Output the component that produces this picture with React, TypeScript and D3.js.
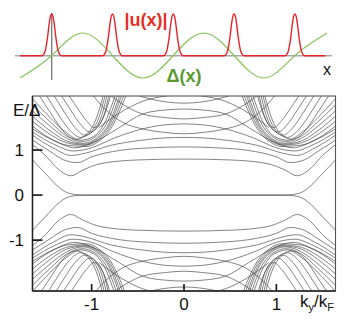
import React from 'react';
import * as d3 from 'd3';

// ---- top panel data (x in units of the peak spacing) ----
const deltaX = [-0.52, 0, 0.5, 1, 1.5, 2, 2.5, 3, 3.5, 4, 4.53];
const deltaV = [-1, 0, 1, 0, -1, 0, 1, 0, -1, 0, 1];
const peakCenters = [0, 1, 2, 3, 4];
const peakDx = [-0.16, -0.11, -0.07, -0.04, -0.02, 0, 0.02, 0.04, 0.07, 0.11, 0.16];
const peakV = [0, 0.1, 0.42, 0.78, 0.95, 1, 0.95, 0.78, 0.42, 0.1, 0];

// ---- spectrum: curves of the k<0, E>0 quadrant (mirrored in k and E) ----
const zeroMode = [[-1.64, 0.78], [-1.5, 0.48], [-1.38, 0.22], [-1.26, 0.05], [-1.12, 0.004], [0, 0.004]];
const andreev1 = [[-1.64, 1.12], [-1.5, 0.88], [-1.36, 0.57], [-1.22, 0.43], [-1.1, 0.55], [-0.9, 0.7], [-0.5, 0.78], [0, 0.8]];
const andreev2 = [[-1.64, 1.22], [-1.45, 0.97], [-1.3, 0.78], [-1.15, 0.72], [-1.0, 0.85], [-0.7, 0.99], [-0.35, 1.05], [0, 1.07]];
const domes = [
  [[-1.64, 1.33], [-1.42, 1.05], [-1.22, 0.88], [-1.07, 0.93], [-0.8, 1.1], [-0.45, 1.22], [-0.2, 1.27], [0, 1.28]],
  [[-1.64, 1.4], [-1.4, 1.12], [-1.2, 0.98], [-1.03, 1.03], [-0.75, 1.27], [-0.45, 1.47], [-0.2, 1.56], [0, 1.58]],
  [[-1.64, 1.47], [-1.4, 1.2], [-1.18, 1.05], [-1.0, 1.15], [-0.7, 1.5], [-0.45, 1.8], [-0.2, 1.89], [0, 1.91]],
  [[-0.92, 1.5], [-0.7, 1.82], [-0.45, 2.08], [-0.2, 2.2], [0, 2.23]],
];
const valleys = [
  [[-0.55, 2.25], [-0.4, 2.15], [-0.2, 2.07], [0, 2.04]],
  [[-0.82, 2.25], [-0.65, 2.0], [-0.45, 1.8], [-0.2, 1.72], [0, 1.69]],
  [[-1.0, 2.25], [-0.85, 1.9], [-0.65, 1.6], [-0.45, 1.47], [-0.2, 1.39], [0, 1.36]],
];
// gap-edge bundle: lines from the left edge turning up into the steep arm
const edgeFan = [
  [[-1.64, 2.14], [-1.45, 1.72], [-1.27, 1.38], [-1.12, 1.22], [-0.98, 1.3], [-0.86, 1.6], [-0.74, 2.25]],
  [[-1.64, 2.0], [-1.45, 1.63], [-1.27, 1.31], [-1.1, 1.19], [-0.97, 1.28], [-0.84, 1.58], [-0.715, 2.25]],
  [[-1.64, 1.87], [-1.45, 1.53], [-1.27, 1.26], [-1.09, 1.15], [-0.95, 1.26], [-0.82, 1.56], [-0.69, 2.25]],
  [[-1.64, 1.75], [-1.45, 1.43], [-1.27, 1.2], [-1.08, 1.13], [-0.94, 1.245], [-0.81, 1.54], [-0.67, 2.25]],
  [[-1.64, 1.64], [-1.45, 1.35], [-1.27, 1.16], [-1.07, 1.11], [-0.93, 1.225], [-0.8, 1.51], [-0.645, 2.25]],
  [[-1.64, 1.53], [-1.45, 1.26], [-1.27, 1.11], [-1.05, 1.08], [-0.92, 1.2], [-0.79, 1.48], [-0.62, 2.25]],
];
// lines from the top edge dipping down and back up, crossing each other over the bundle
const topFan = [
  [[-1.58, 2.25], [-1.43, 1.78], [-1.3, 1.4], [-1.17, 1.24], [-1.05, 1.36], [-0.95, 1.7], [-0.87, 2.25]],
  [[-1.5, 2.25], [-1.37, 1.82], [-1.24, 1.45], [-1.12, 1.28], [-1.01, 1.4], [-0.92, 1.73], [-0.85, 2.25]],
  [[-1.42, 2.25], [-1.3, 1.86], [-1.18, 1.5], [-1.07, 1.33], [-0.97, 1.45], [-0.89, 1.77], [-0.83, 2.25]],
  [[-1.34, 2.25], [-1.23, 1.9], [-1.12, 1.57], [-1.02, 1.4], [-0.93, 1.52], [-0.86, 1.82], [-0.81, 2.25]],
  [[-1.26, 2.25], [-1.16, 1.95], [-1.06, 1.66], [-0.97, 1.5], [-0.9, 1.62], [-0.84, 1.9], [-0.79, 2.25]],
];

const yTicks = [-1, 0, 1];
const xTicks = [-1, 0, 1];

const kScale = d3.scaleLinear().domain([-1.64, 1.64]).range([32.5, 335.5]);
const eScale = d3.scaleLinear().domain([-2.13, 2.2]).range([291, 96]);

const xTop = d3.scaleLinear().domain([0, 1]).range([51.7, 112.5]);
const yDelta = d3.scaleLinear().domain([-1, 1]).range([78, 33]);
const yU = d3.scaleLinear().domain([0, 1]).range([55.7, 14]);

const bandLine = d3.line<number[]>()
  .x((d) => kScale(d[0]))
  .y((d) => eScale(d[1]))
  .curve(d3.curveMonotoneX);

// a quadrant curve -> the four mirrored copies
function mirrored(pts: number[][]) {
  const out: number[][][] = [];
  const joins = pts[pts.length - 1][0] === 0;
  for (const s of [1, -1]) {
    const left = pts.map((p) => [p[0], s * p[1]]);
    const right = pts.map((p) => [-p[0], s * p[1]]).reverse();
    if (joins) out.push(left.concat(right.slice(1)));
    else out.push(left, right);
  }
  return out;
}

const allCurves = [zeroMode, andreev1, andreev2, ...domes, ...valleys, ...edgeFan, ...topFan].flatMap(mirrored);

const deltaLine = d3.line<number>()
  .x((_, i) => xTop(deltaX[i]))
  .y((d) => yDelta(d))
  .curve(d3.curveNatural);

const uPoints: number[][] = [[-0.52, 0]];
peakCenters.forEach((c) => peakDx.forEach((dx, i) => uPoints.push([c + dx, peakV[i]])));
uPoints.push([4.5, 0]);
const uLine = d3.line<number[]>()
  .x((d) => xTop(d[0]))
  .y((d) => yU(d[1]))
  .curve(d3.curveMonotoneX);

const font = '"Liberation Sans", Arial, sans-serif';

export default function App() {
  const x0 = kScale.range()[0], x1 = kScale.range()[1];
  const y0 = eScale.range()[1], y1 = eScale.range()[0];
  return (
    <div style={{ position: 'absolute', left: 0, top: 0 }}>
      <svg width={346} height={320} style={{ display: 'block', fontFamily: font }}>
        <rect width={346} height={320} fill="#fff" />
        {/* top panel */}
        <line x1={15} x2={332} y1={yU(0)} y2={yU(0)} stroke="#a8a8a8" strokeWidth={1.4} />
        <line x1={xTop(0)} x2={xTop(0)} y1={13} y2={80} stroke="#777" strokeWidth={1.3} />
        <path d={deltaLine(deltaV) || ''} fill="none" stroke="#86c45a" strokeWidth={1.2} />
        <path d={uLine(uPoints) || ''} fill="none" stroke="#e8242a" strokeWidth={1.4} />
        <text x={146} y={26} textAnchor="middle" fontSize={18} fontWeight="bold" fill="#e3301f">|u(x)|</text>
        <text x={184} y={82} textAnchor="middle" fontSize={18} fontWeight="bold" fill="#5a9a2e">Δ(x)</text>
        <text x={327} y={75} textAnchor="middle" fontSize={16} fill="#111">x</text>

        {/* spectrum */}
        <defs>
          <clipPath id="frame">
            <rect x={x0} y={y0} width={x1 - x0} height={y1 - y0} />
          </clipPath>
        </defs>
        <g clipPath="url(#frame)">
          {allCurves.map((c, i) => (
            <path key={i} d={bandLine(c) || ''} fill="none" stroke="#333" strokeWidth={0.6} />
          ))}
        </g>
        <rect x={x0} y={y0} width={x1 - x0} height={y1 - y0} fill="none" stroke="#555" strokeWidth={1.1} />
        <line x1={x0} x2={x0} y1={y0} y2={y1} stroke="#222" strokeWidth={1.5} />
        <line x1={x0} x2={x1} y1={y1} y2={y1} stroke="#222" strokeWidth={1.5} />
        {yTicks.map((t) => (
          <g key={'y' + t}>
            <line x1={x0} x2={x0 + 10} y1={eScale(t)} y2={eScale(t)} stroke="#111" strokeWidth={1.6} />
            <text x={24} y={eScale(t) + 6} textAnchor="end" fontSize={17} fill="#111">{t}</text>
          </g>
        ))}
        {xTicks.map((t) => (
          <g key={'x' + t}>
            <line x1={kScale(t)} x2={kScale(t)} y1={y1} y2={y1 - 7} stroke="#111" strokeWidth={1.6} />
            <text x={kScale(t)} y={310} textAnchor="middle" fontSize={17} fill="#111">{t}</text>
          </g>
        ))}
        <text x={13} y={116} fontSize={17} fill="#111">E/Δ</text>
        <text x={300} y={307} fontSize={17} fill="#111">
          k<tspan fontSize={11} dy={4}>y</tspan><tspan dy={-4}>/k</tspan><tspan fontSize={11} dy={4}>F</tspan>
        </text>
      </svg>
    </div>
  );
}
